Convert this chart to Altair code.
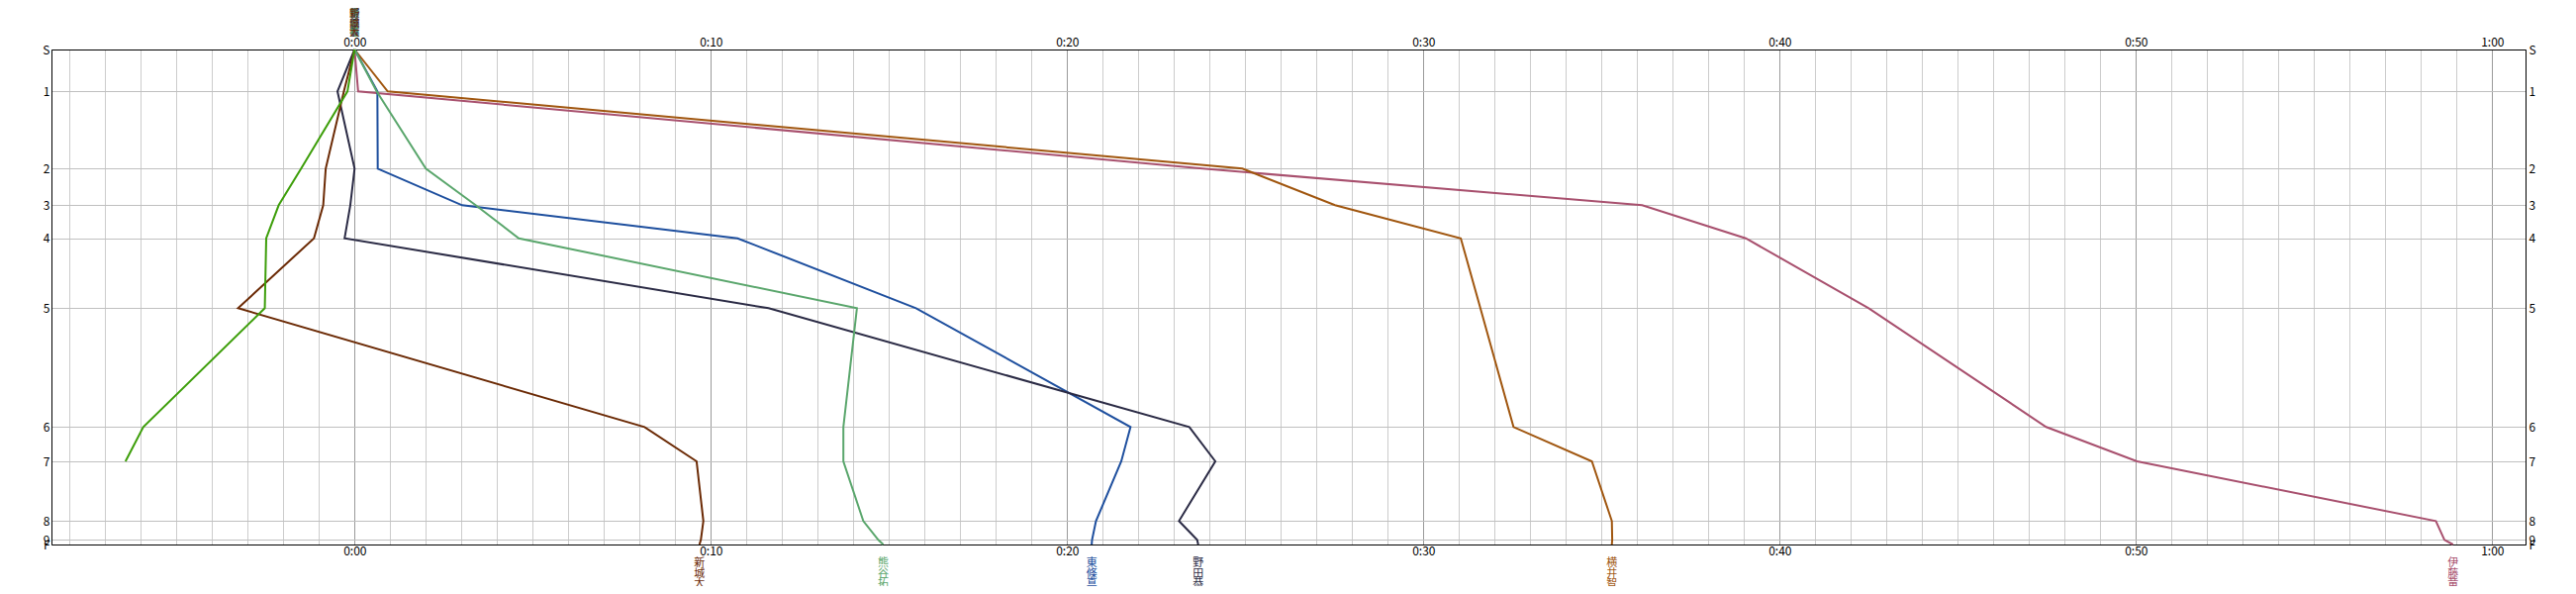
import altair as alt
import pandas as pd

# ---- data ----
stations = ["S", "1", "2", "3", "4", "5", "6", "7", "8", "9", "F"]
station_pos = [0, 42.3, 120.3, 157.3, 190.7, 261.3, 381.3, 416.0, 476.3, 495.3, 500.0]

runner_names = ["伊藤竜", "横井智", "東條真", "野田恭", "熊谷拓", "新城大", "緑"]
runner_colors = ["#a8506e", "#a0560f", "#1e4f9e", "#2b2b45", "#5aa66c", "#6b2a05", "#3d9e0a"]
show_label = [True, True, True, True, True, True, False]

ito_t = [0, 0.1, 23.8, 36.14, 39.05, 42.5, 47.48, 50.03, 58.42, 58.66, 58.9]
yokoi_t = [0, 0.93, 24.92, 27.52, 31.05, 31.6, 32.53, 34.73, 35.29, 35.3, 35.29]
tojo_t = [0, 0.64, 0.65, 3.02, 10.75, 15.76, 21.78, 21.52, 20.81, 20.7, 20.69]
noda_t = [0, -0.48, 0.0, -0.12, -0.28, 11.62, 23.43, 24.16, 23.14, 23.65, 23.68]
kumagai_t = [0, 0.62, 2.0, 3.4, 4.61, 14.1, 13.72, 13.72, 14.28, 14.7, 14.84]
shinjo_t = [0, -0.3, -0.81, -0.88, -1.14, -3.27, 8.14, 9.6, 9.79, 9.72, 9.68]
green_t = [0, -0.2, -1.5, -2.13, -2.48, -2.52, -5.93, -6.43]

times = [ito_t, yokoi_t, tojo_t, noda_t, kumagai_t, shinjo_t, green_t]

x_minor_ticks = list(range(-8, 61))
x_major_ticks = [0, 10, 20, 30, 40, 50, 60]

# ---- tables ----
rows = []
for name, ts in zip(runner_names, times):
    for i, t in enumerate(ts):
        rows.append({"runner": name, "idx": i, "t": t, "pos": station_pos[i]})
df = pd.DataFrame(rows)

top_rows, bottom_rows = [], []
for name, ts, show in zip(runner_names, times, show_label):
    if not show:
        continue
    lbl = "\n".join(list(name))
    top_rows.append({"runner": name, "t": ts[0], "pos": station_pos[0], "label": lbl})
    if len(ts) == len(stations):
        bottom_rows.append({"runner": name, "t": ts[-1], "pos": station_pos[-1], "label": lbl})
top_df = pd.DataFrame(top_rows)
bottom_df = pd.DataFrame(bottom_rows)

# ---- chart ----
font = "Noto Sans CJK JP"
x_scale = alt.Scale(domain=[-8.508, 60.936], nice=False, zero=False)
y_scale = alt.Scale(domain=[0, 500], reverse=True, nice=False, zero=False)
color_scale = alt.Scale(domain=runner_names, range=runner_colors)

x_label_expr = ("(datum.value % 10 == 0 && datum.value >= 0) ? "
                "(floor(datum.value / 60) + ':' + (datum.value % 60 < 10 ? '0' : '') + (datum.value % 60)) : ''")
y_label_expr = " : ".join(f"datum.value == {p} ? '{s}'" for p, s in zip(station_pos, stations)) + " : ''"

common_axis = dict(ticks=False, domain=True, domainColor="black", labelFont=font,
                   labelFontSize=12, labelColor="black", labelOverlap=False,
                   labelFlush=False, labelBound=False, title=None)

lines = alt.Chart(df).mark_line(strokeWidth=2).encode(
    x=alt.X("t:Q", scale=x_scale,
            axis=alt.Axis(orient="bottom", values=x_minor_ticks, labelExpr=x_label_expr,
                          grid=True,
                          gridColor={"condition": {"test": "datum.value % 10 == 0", "value": "#9a9a9a"},
                                     "value": "#cccccc"},
                          labelPadding=1, **common_axis)),
    y=alt.Y("pos:Q", scale=y_scale,
            axis=alt.Axis(orient="left", values=station_pos, labelExpr=y_label_expr,
                          grid=True, gridColor="#c0c0c0", labelPadding=2, **common_axis)),
    color=alt.Color("runner:N", scale=color_scale, legend=None),
    order=alt.Order("idx:Q"),
)

top_names = alt.Chart(top_df).mark_text(
    baseline="top", dy=-41, lineBreak="\n", font=font, fontSize=10, lineHeight=9.6
).encode(
    x=alt.X("t:Q", scale=x_scale,
            axis=alt.Axis(orient="top", values=x_major_ticks, labelExpr=x_label_expr,
                          grid=False, labelPadding=1, **common_axis)),
    y=alt.Y("pos:Q", scale=y_scale,
            axis=alt.Axis(orient="right", values=station_pos, labelExpr=y_label_expr,
                          grid=False, labelPadding=3, **common_axis)),
    text="label:N",
    color=alt.Color("runner:N", scale=color_scale, legend=None),
)

bottom_names = alt.Chart(bottom_df).mark_text(
    baseline="top", dy=13, lineBreak="\n", font=font, fontSize=11, lineHeight=10.5
).encode(
    x=alt.X("t:Q", scale=x_scale, axis=None),
    y=alt.Y("pos:Q", scale=y_scale, axis=None),
    text="label:N",
    color=alt.Color("runner:N", scale=color_scale, legend=None),
)

chart = alt.layer(lines, bottom_names, top_names).resolve_axis(
    x="independent", y="independent"
).properties(
    width=2500, height=500,
    padding={"left": 44, "top": 42, "right": 43, "bottom": 42},
    autosize=alt.AutoSizeParams(type="none"),
    background="white",
).configure_view(stroke="black", strokeWidth=1)

chart.save("out.html", embed_options={"renderer": "svg", "actions": False})
